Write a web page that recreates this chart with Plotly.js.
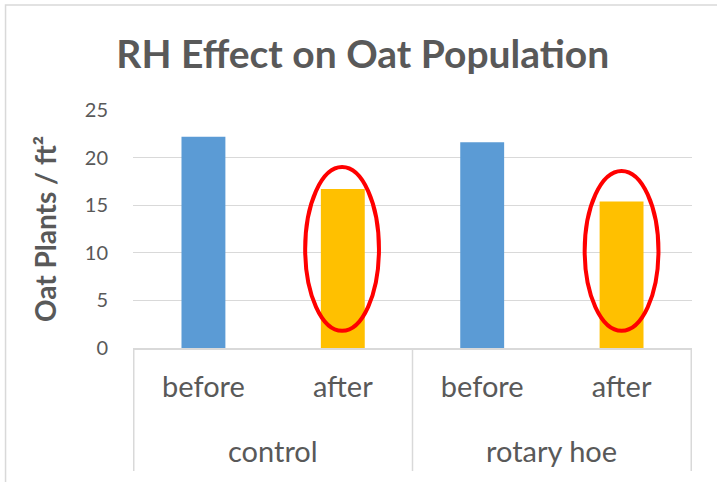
<!DOCTYPE html>
<html>
<head>
<meta charset="utf-8">
<script src="https://cdn.plot.ly/plotly-3.0.1.min.js"></script>
<style>html,body{margin:0;padding:0;background:#fff;}#chart{width:717px;height:482px;}</style>
</head>
<body>
<div id="chart"></div>
<script>
const groups = ['control', 'control', 'rotary hoe', 'rotary hoe'];
const stages = ['before', 'after', 'before', 'after'];
const plants = [22.2, 16.7, 21.6, 15.4];
const barColors = ['#5B9BD5', '#FFC000', '#5B9BD5', '#FFC000'];
const yTicks = [0, 5, 10, 15, 20, 25];

const textColor = '#595959';
const lineColor = '#d9d9d9';
const font = 'Lato, "Open Sans", sans-serif';

// unique category keys so repeated stage names stay separate bars
const keys = groups.map((g, i) => g + '|' + stages[i]);

// group spans (index positions on the category axis)
const groupSpans = [];
groups.forEach((g, i) => {
  const last = groupSpans[groupSpans.length - 1];
  if (last && last.name === g) { last.end = i; }
  else { groupSpans.push({name: g, start: i, end: i}); }
});

const groupLabelY = -0.43;
const dividerBottom = -0.517;

const annotations = groupSpans.map(s => ({
  xref: 'x', yref: 'paper',
  x: (s.start + s.end) / 2, y: groupLabelY,
  text: s.name, showarrow: false,
  xanchor: 'center', yanchor: 'middle',
  font: {size: 29, color: textColor, family: font}
}));

const dividerPositions = [groupSpans[0].start - 0.5].concat(groupSpans.map(s => s.end + 0.5));
const shapes = dividerPositions.map(p => ({
  type: 'line', xref: 'x', yref: 'paper',
  x0: p, x1: p, y0: 0, y1: dividerBottom,
  line: {color: lineColor, width: 1.5}
}));

shapes.push(
  {type: 'circle', xref: 'paper', yref: 'y', x0: 0.308, x1: 0.440, y0: 1.8, y1: 19.0, line: {color: '#FF0000', width: 4}},
  {type: 'circle', xref: 'paper', yref: 'y', x0: 0.808, x1: 0.940, y0: 1.8, y1: 18.6, line: {color: '#FF0000', width: 4}},
  {type: 'rect', xref: 'paper', yref: 'paper', x0: -0.228, x1: 1.1, y0: -0.8, y1: 1.441, line: {color: lineColor, width: 1.5}, layer: 'below'}
);

const trace = {
  type: 'bar',
  x: keys,
  y: plants,
  marker: {color: barColors},
  hoverinfo: 'y'
};

const pad = '\u00A0'.repeat(12);

const layout = {
  width: 717, height: 482,
  margin: {l: 133, r: 25, t: 110, b: 134},
  paper_bgcolor: '#fff', plot_bgcolor: '#fff',
  font: {family: font, color: textColor},
  title: {text: '<b>RH Effect on Oat Population</b>', font: {size: 39, color: textColor, family: font}, x: 0.506, xanchor: 'center', y: 0.888, yanchor: 'middle'},
  bargap: 0.685,
  showlegend: false,
  xaxis: {
    type: 'category',
    tickmode: 'array', tickvals: keys, ticktext: stages,
    showline: true, linecolor: lineColor, linewidth: 1.5,
    tickfont: {size: 29, color: textColor},
    ticklabelstandoff: 13,
    showgrid: false, ticks: '', zeroline: false
  },
  yaxis: {
    range: [0, 25], tickmode: 'array', tickvals: yTicks,
    showgrid: true, gridcolor: lineColor, gridwidth: 1.3,
    zeroline: false, showline: false,
    ticks: 'outside', ticklen: 20, tickcolor: 'rgba(0,0,0,0)',
    tickfont: {size: 20, color: textColor},
    title: {text: pad + '<b>Oat Plants / ft²</b>', font: {size: 28, color: textColor}, standoff: 19}
  },
  annotations: annotations,
  shapes: shapes
};

Plotly.newPlot('chart', [trace], layout, {displayModeBar: false, staticPlot: true});
</script>
</body>
</html>
